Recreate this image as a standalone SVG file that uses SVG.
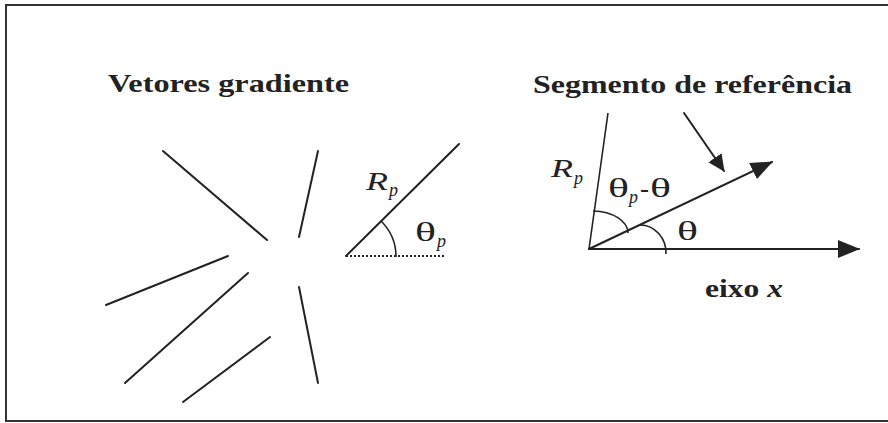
<svg xmlns="http://www.w3.org/2000/svg" width="888" height="423" viewBox="0 0 888 423">
<style>
  .ln{stroke:#222;stroke-width:2;fill:none;stroke-linecap:round}
  .thin{stroke:#222;stroke-width:1.6;fill:none}
  .t{font-family:'Liberation Serif','Times New Roman','DejaVu Serif',serif;font-stretch:condensed;fill:#222}
  .b{font-weight:bold;font-size:25px}
  .i{font-style:italic}
</style>
<defs>
  <marker id="ah" viewBox="0 0 22 18" refX="21" refY="9" markerWidth="22" markerHeight="18" markerUnits="userSpaceOnUse" orient="auto"><path d="M0,0 L22,9 L0,18 z" fill="#222"/></marker>
  <marker id="ahs" viewBox="0 0 17 16" refX="16" refY="8" markerWidth="17" markerHeight="16" markerUnits="userSpaceOnUse" orient="auto"><path d="M0,0 L17,8 L0,16 z" fill="#222"/></marker>
</defs>
<rect x="6" y="5" width="900" height="416" fill="#fff" stroke="#333" stroke-width="2"/>

<g id="title-left"><text class="t b" x="108" y="92" textLength="241" lengthAdjust="spacingAndGlyphs">Vetores gradiente</text></g>
<g id="title-right"><text class="t b" x="533" y="93" textLength="319" lengthAdjust="spacingAndGlyphs">Segmento de referência</text></g>

<g id="gradient-vectors">
  <line class="ln" x1="163" y1="151" x2="267" y2="240"/>
  <line class="ln" x1="318" y1="151" x2="299" y2="237"/>
  <line class="ln" x1="228" y1="256" x2="106" y2="305"/>
  <line class="ln" x1="248" y1="273" x2="125" y2="383"/>
  <line class="ln" x1="270" y1="337" x2="183" y2="402"/>
  <line class="ln" x1="299" y1="287" x2="318" y2="383"/>
</g>

<g id="rp-left">
  <line class="ln" x1="346" y1="256" x2="459" y2="144"/>
  <line x1="346" y1="256" x2="445" y2="256" stroke="#222" stroke-width="2" stroke-dasharray="2 2"/>
  <path class="thin" d="M381,221 A50,50 0 0 1 396,257"/>
  <text class="t i" x="366" y="190" font-size="25" textLength="22" lengthAdjust="spacingAndGlyphs">R</text>
  <text class="t i" x="389" y="196" font-size="18">p</text>
  <text class="t" x="415" y="241" font-size="27" textLength="21" lengthAdjust="spacingAndGlyphs">θ</text>
  <text class="t i" x="437" y="247" font-size="18">p</text>
</g>

<g id="connectors">
  <line class="thin" x1="589" y1="249" x2="608" y2="113"/>
  <line class="ln" x1="589" y1="249" x2="859" y2="249" marker-end="url(#ah)"/>
  <line class="ln" x1="589" y1="249" x2="772" y2="162" marker-end="url(#ah)"/>
  <line class="ln" x1="684" y1="113" x2="724" y2="171" marker-end="url(#ahs)"/>
</g>

<g id="rp-right">
  <path class="thin" d="M593,211 A36,22 0 0 1 628,233"/>
  <path class="thin" d="M640,225 A26,28 0 0 1 666,254"/>
  <text class="t i" x="551" y="177" font-size="25" textLength="22" lengthAdjust="spacingAndGlyphs">R</text>
  <text class="t i" x="574" y="184" font-size="18">p</text>
  <text class="t" x="608" y="197" font-size="27" textLength="21" lengthAdjust="spacingAndGlyphs">θ</text>
  <text class="t i" x="629" y="203" font-size="18">p</text>
  <text class="t" x="640" y="197" font-size="27">-</text>
  <text class="t" x="650" y="197" font-size="27" textLength="21" lengthAdjust="spacingAndGlyphs">θ</text>
  <text class="t" x="677" y="240" font-size="27" textLength="21" lengthAdjust="spacingAndGlyphs">θ</text>
</g>

<g id="axis-label"><text class="t b" x="705" y="297" textLength="78" lengthAdjust="spacingAndGlyphs">eixo <tspan font-style="italic">x</tspan></text></g>
</svg>
